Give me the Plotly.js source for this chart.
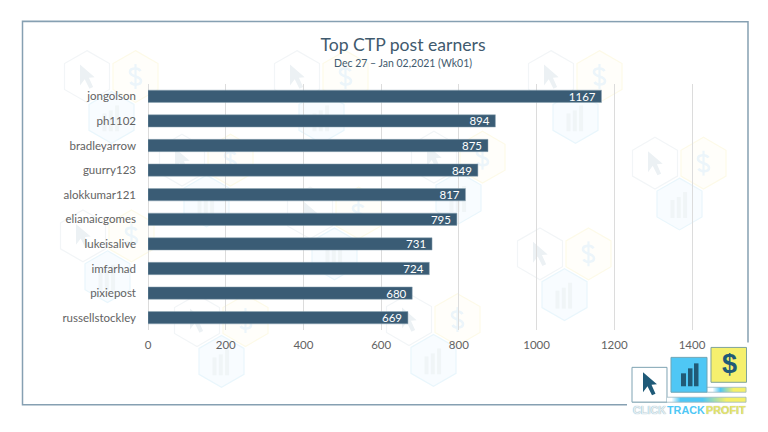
<!DOCTYPE html>
<html><head><meta charset="utf-8">
<script src="https://cdn.plot.ly/plotly-3.0.1.min.js"></script>
<style>html,body{margin:0;padding:0;background:#fff}#c{width:768px;height:432px}</style>
</head><body><div id="c"></div>
<script>
const users = ["jongolson","ph1102","bradleyarrow","guurry123","alokkumar121","elianaicgomes","lukeisalive","imfarhad","pixiepost","russellstockley"];
const earnings = [1167,894,875,849,817,795,731,724,680,669];
const xTicks = [0,200,400,600,800,1000,1200,1400];
const chartTitle = "Top CTP post earners";
const chartSub = "Dec 27 – Jan 02,2021 (Wk01)";
const wmGroups = [[87,76],[297,76],[551,76],[182,160],[434,157],[655,163],[83,236],[310,213],[540,254],[197,321],[409,320]];

const L=148,R=695,T=83.5,B=330.5;
const X=x=>(x-L)/(R-L), Y=y=>(B-y)/(B-T);
function path(cmds){return cmds.map(c=>{let s=c[0];for(let i=1;i<c.length;i+=2){s+=(i>1?' ':'')+X(c[i]).toFixed(5)+','+Y(c[i+1]).toFixed(5);}return s;}).join(' ');}
const shapes=[];
function add(cmds,opt,layer){shapes.push({type:'path',xref:'paper',yref:'paper',layer:layer||'below',path:path(cmds),fillcolor:opt.fill||'rgba(0,0,0,0)',line:{color:opt.line||'rgba(0,0,0,0)',width:opt.w===undefined?1:opt.w}});}
function rect(x0,y0,x1,y1,opt,layer){add([['M',x0,y0],['L',x1,y0],['L',x1,y1],['L',x0,y1],['Z']],opt,layer);}
function hex(cx,cy,line,fill){const r=26,h=22.5;add([['M',cx,cy-r],['L',cx+h,cy-r/2],['L',cx+h,cy+r/2],['L',cx,cy+r],['L',cx-h,cy+r/2],['L',cx-h,cy-r/2],['Z']],{line:line,fill:fill,w:1.2});}
function cursor(x,y,s,col,layer){const p=[[0,0],[0,20],[4.5,14],[9,23],[12.5,21.5],[8.5,12.5],[14,12]];add(p.map((q,i)=>[i?'L':'M',x+q[0]*s,y+q[1]*s]).concat([['Z']]),{fill:col,w:0},layer);}
function dollar(cx,cy,col){add([['M',cx+5,cy-5.5],['C',cx+3,cy-9,cx-5.5,cy-9,cx-5.5,cy-4.5],['C',cx-5.5,cy+1,cx+5.5,cy-1,cx+5.5,cy+4.5],['C',cx+5.5,cy+9,cx-3,cy+9,cx-5,cy+5.5]],{line:col,w:2.6});add([['M',cx,cy-12.5],['L',cx,cy+12.5]],{line:col,w:2.2});}

wmGroups.forEach(g=>{
  const cx=g[0],cy=g[1];
  hex(cx,cy,'#f2f5f7','#ffffff');
  cursor(cx-7,cy-12,1.05,'#ecf1f4');
  hex(cx+48.5,cy,'#fdfae8','#fffefa');
  dollar(cx+48.5,cy,'#ecf5fa');
  hex(cx+24.5,cy+41,'#e9f6fc','#f8fcff');
  [18,21,26].forEach((h,i)=>rect(cx+24.5-9+i*6.3,cy+41+14-h,cx+24.5-5+i*6.3,cy+41+14,{fill:'#f0f5f7',w:0}));
});

// frame
add([['M',627,405.5],['L',22.5,405.5],['L',22.5,20.5],['L',748,21],['L',748,343]],{line:'#86a0b2',w:1.5},'above');

// logo
rect(632,368,667,403,{fill:'#ffffff',line:'#7fa3b3',w:1},'above');
function lerp(a,b,t){return a.map((v,i)=>Math.round(v+(b[i]-v)*t));}
const WH=[255,255,255],BL=[79,199,245],YE=[245,240,105];
function grad(x){
  if(x<671)return WH; if(x<680)return lerp(WH,BL,(x-671)/9); if(x<702)return BL;
  if(x<726)return lerp(BL,YE,(x-702)/24); return YE;}
for(let x=667;x<746;x+=1){rect(x,398,x+1.2,403,{fill:'rgb('+grad(x)+')',w:0},'above');}
function grad2(x){ if(x<712)return WH; if(x<720)return lerp(WH,BL,(x-712)/8); if(x<733)return lerp(BL,YE,(x-720)/13); return YE;}
for(let x=707;x<746;x+=1){rect(x,388,x+1.2,393,{fill:'rgb('+grad2(x)+')',w:0},'above');}
add([['M',667,398],['L',746,398],['L',746,403],['L',632,403]],{line:'#9db8c2',w:0.8},'above');
add([['M',707,388],['L',746,388],['L',746,393],['L',707,393]],{line:'#9db8c2',w:0.8},'above');
rect(671,358,707,393,{fill:'#4fc7f5',line:'#6fa5b5',w:1},'above');
rect(711,348,746.5,383,{fill:'#f5f06e',line:'#7fa39a',w:1},'above');
cursor(643,373,1.0,'#1f5a78','above');
rect(681,374,686,387,{fill:'#215a76',w:0},'above');
rect(688,369,692.5,387,{fill:'#215a76',w:0},'above');
rect(694,364,698.5,387,{fill:'#215a76',w:0},'above');

const ann=(x,y,text,font,anchor)=>({xref:'paper',yref:'paper',x:X(x),y:Y(y),text:text,showarrow:false,xanchor:anchor||'center',yanchor:'middle',font:font,borderpad:0});
const logoFont=(c,sh)=>({family:'"Liberation Sans",sans-serif',size:10.8,weight:700,color:c,shadow:sh||'none'});
const annotations=[
  ann(403,62,chartSub,{family:'Lato,sans-serif',size:10.5,color:'#3f5a6e'}),
  ann(729,365,'$',{family:'"Liberation Sans",sans-serif',size:27,weight:700,color:'#1f5a78'}),
  ann(649.5,411,'CLICK',logoFont('#e4eef3','0 0 1px #6f9bb0')),
  ann(686,411,'TRACK',logoFont('#4fc7f5')),
  ann(726,411,'PROFIT',logoFont('#e6e36a','0 0 1px #a9b89a'))
];

const trace={type:'bar',orientation:'h',x:earnings,y:users,text:earnings.map(v=>v+'\u00a0'),textposition:'inside',insidetextanchor:'end',textangle:0,
  textfont:{family:'Lato,sans-serif',size:11.5,color:'#ffffff'},constraintext:'none',
  marker:{color:'#3a5c75',line:{color:'#8fa6b5',width:0.5}},hoverinfo:'skip',cliponaxis:false};
const layout={width:768,height:432,paper_bgcolor:'#ffffff',plot_bgcolor:'rgba(0,0,0,0)',showlegend:false,bargap:0.5,
  margin:{l:L,r:768-R,t:T,b:432-B,pad:0},
  title:{text:chartTitle,x:403/768,xanchor:'center',xref:'container',y:1-45/432,yanchor:'middle',yref:'container',font:{family:'Lato,sans-serif',size:17.6,color:'#3f5a6e'}},
  xaxis:{range:[0,1407.7],tickvals:xTicks,ticktext:xTicks.map(String),showgrid:true,gridcolor:'#dcdcdc',gridwidth:1,zeroline:true,zerolinecolor:'#dcdcdc',zerolinewidth:1,showline:false,ticks:'',ticklabelstandoff:6,tickfont:{family:'Lato,sans-serif',size:11.5,color:'#636363'}},
  yaxis:{type:'category',range:[9.5,-0.5],categoryorder:'array',categoryarray:users,showgrid:false,zeroline:false,showline:false,ticks:'',ticklabelstandoff:11,automargin:false,tickfont:{family:'Lato,sans-serif',size:11.5,color:'#636363'}},
  shapes:shapes,annotations:annotations};
Plotly.newPlot('c',[trace],layout,{displayModeBar:false,staticPlot:true});
</script></body></html>
